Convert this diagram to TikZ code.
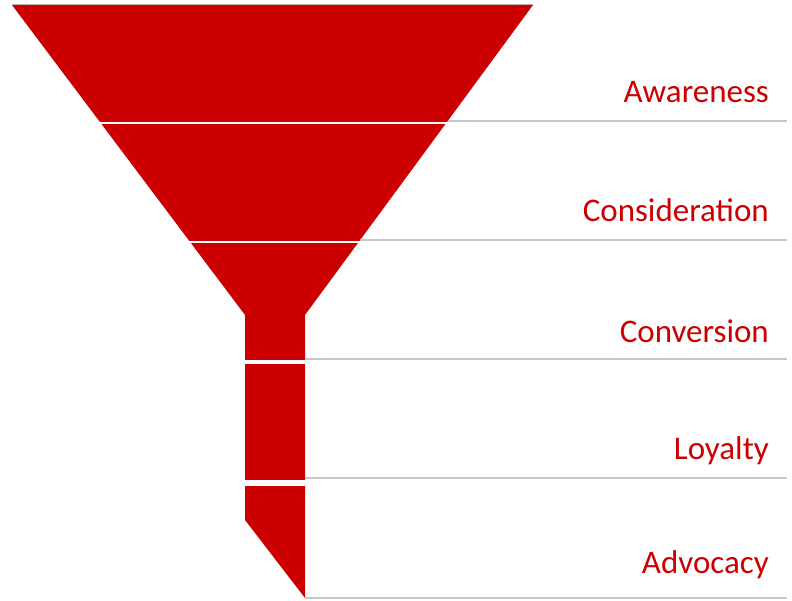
\documentclass[tikz,border=0pt]{standalone}
\usepackage{fontspec}
\setmainfont{Carlito}
\usepackage{tikz}
\usetikzlibrary{calc}
\definecolor{funnelred}{RGB}{204,0,0}
\definecolor{rulegray}{RGB}{200,200,200}
\tikzstyle{stage}=[fill=funnelred]
\tikzstyle{stagegap}=[fill=white]
\tikzstyle{stagerule}=[draw=rulegray, line width=1.5pt]
\tikzstyle{stagelabel}=[anchor=base east, inner sep=0pt, text=funnelred, font=\fontsize{33}{36}\selectfont]

\begin{document}
\begin{tikzpicture}[x=1pt,y=-1pt]
	\useasboundingbox (0,0) rectangle (792,601);
	% funnel body
	\coordinate (TL) at (12,5);
	\coordinate (TR) at (533,5);
	\coordinate (NL) at (245,315);
	\coordinate (NR) at (305,315);
	\coordinate (tip) at (305,598);
	\coordinate (cut) at (245,520);
	\draw[stagerule, line width=1pt] (TL) -- (TR);
	\fill[stage] (TL) -- (TR) -- (NR) -- (tip) -- (cut) -- (NL) -- cycle;
	% white gaps between the stages
	\fill[stagegap] (0,122) rectangle (540,124.5);
	\fill[stagegap] (0,241) rectangle (540,243.5);
	\fill[stagegap] (0,360) rectangle (540,364);
	\fill[stagegap] (0,480) rectangle (540,486);
	% rules and labels
	\foreach \tag/\txt/\ry/\by/\rx in {aw/Awareness/121/103/448, co/Consideration/240/222/360, cv/Conversion/359/343/305, lo/Loyalty/478/459/305, ad/Advocacy/598/573/305}{
		\node[stagelabel] (\tag) at (769,\by) {\txt};
		\coordinate (\tag-a) at (\rx,\ry);
		\coordinate (\tag-b) at (787,\ry);
		\draw[stagerule] (\tag-a) -- (\tag-b);
	}
\end{tikzpicture}
\end{document}
